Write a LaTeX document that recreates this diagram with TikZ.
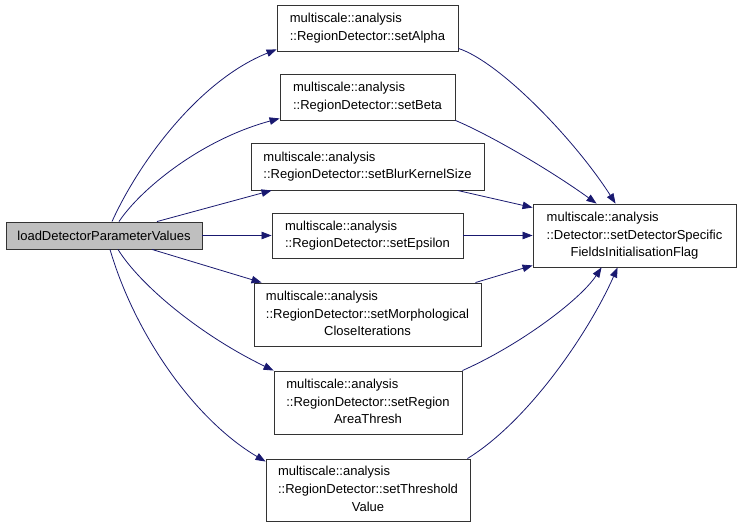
\documentclass[tikz,border=0pt]{standalone}
\usepackage{fontspec}
\setmainfont{Liberation Sans}
\usetikzlibrary{arrows.meta,calc}
\definecolor{edgeblue}{HTML}{191970}
\definecolor{curfill}{HTML}{BFBFBF}
\definecolor{boxline}{HTML}{333333}
\newcommand{\twoline}[2]{\begin{tabular}{@{}l@{}}#1\\#2\end{tabular}}
\newcommand{\threeline}[3]{\begin{tabular}{@{}l@{}}#1\\#2\\\multicolumn{1}{@{}c@{}}{#3}\end{tabular}}
\begin{document}
\begin{tikzpicture}[x=1bp,y=-1bp,
  font=\fontsize{13bp}{17.7bp}\selectfont,
  box/.style={draw=boxline, line width=0.9bp, fill=white, inner sep=0pt},
  call/.style={draw=edgeblue, line width=0.8bp, -{Triangle[length=10bp,width=7.5bp]}}]
\useasboundingbox (0,0) rectangle (741,528);

\node[box, fill=curfill, minimum width=196bp, minimum height=27bp] (load) at (104,235.5) {loadDetectorParameterValues};
\node[box, minimum width=181bp, minimum height=46bp] (alpha) at (367.5,28) {\twoline{multiscale::analysis}{::RegionDetector::setAlpha}};
\node[box, minimum width=175bp, minimum height=46bp] (beta) at (367.5,97) {\twoline{multiscale::analysis}{::RegionDetector::setBeta}};
\node[box, minimum width=233bp, minimum height=47bp] (blur) at (367.5,166.5) {\twoline{multiscale::analysis}{::RegionDetector::setBlurKernelSize}};
\node[box, minimum width=191bp, minimum height=45bp] (eps) at (367.5,235.5) {\twoline{multiscale::analysis}{::RegionDetector::setEpsilon}};
\node[box, minimum width=227bp, minimum height=63bp] (morph) at (367.5,314.5) {\threeline{multiscale::analysis}{::RegionDetector::setMorphological}{CloseIterations}};
\node[box, minimum width=188bp, minimum height=63bp] (region) at (368,402.5) {\threeline{multiscale::analysis}{::RegionDetector::setRegion}{AreaThresh}};
\node[box, minimum width=204bp, minimum height=62bp] (thresh) at (368,490) {\threeline{multiscale::analysis}{::RegionDetector::setThreshold}{Value}};
\node[box, minimum width=203bp, minimum height=63bp] (det) at (634.5,235.5) {\threeline{multiscale::analysis}{::Detector::setDetectorSpecific}{FieldsInitialisationFlag}};

% calls from loadDetectorParameterValues
\draw[call] ($(load.north)+(8,0)$) .. controls (140,160) and (200,80) .. ($(alpha.south west)+(0,-2)$);
\draw[call] ($(load.north)+(15,0)$) .. controls (140,190) and (200,140) .. ($(beta.south west)+(0,-2)$);
\draw[call] ($(load.north)+(53,0)$) -- ($(blur.south west)+(21,0)$);
\draw[call] (load.east) -- (eps.west);
\draw[call] ($(load.south)+(48,0)$) -- ($(morph.north west)+(8,0)$);
\draw[call] ($(load.south)+(14,0)$) .. controls (140,285) and (200,335) .. (region.north west);
\draw[call] ($(load.south)+(6,0)$) .. controls (135,335) and (195,420) .. ($(thresh.north west)+(0,3)$);

% calls to Detector
\draw[call] ($(alpha.south east)+(0,-3)$) .. controls (500,62) and (575,140) .. ($(det.north west)+(83,0)$);
\draw[call] (beta.south east) .. controls (490,135) and (550,170) .. ($(det.north west)+(64,0)$);
\draw[call] ($(blur.south east)+(-27,0)$) -- ($(det.north west)+(0,4)$);
\draw[call] (eps.east) -- (det.west);
\draw[call] ($(morph.north east)+(-6,0)$) -- ($(det.south west)+(0,-2)$);
\draw[call] (region.north east) .. controls (520,345) and (580,300) .. ($(det.south west)+(69,0)$);
\draw[call] ($(thresh.north east)+(-3,0)$) .. controls (530,420) and (590,330) .. ($(det.south west)+(85,0)$);
\end{tikzpicture}
\end{document}
